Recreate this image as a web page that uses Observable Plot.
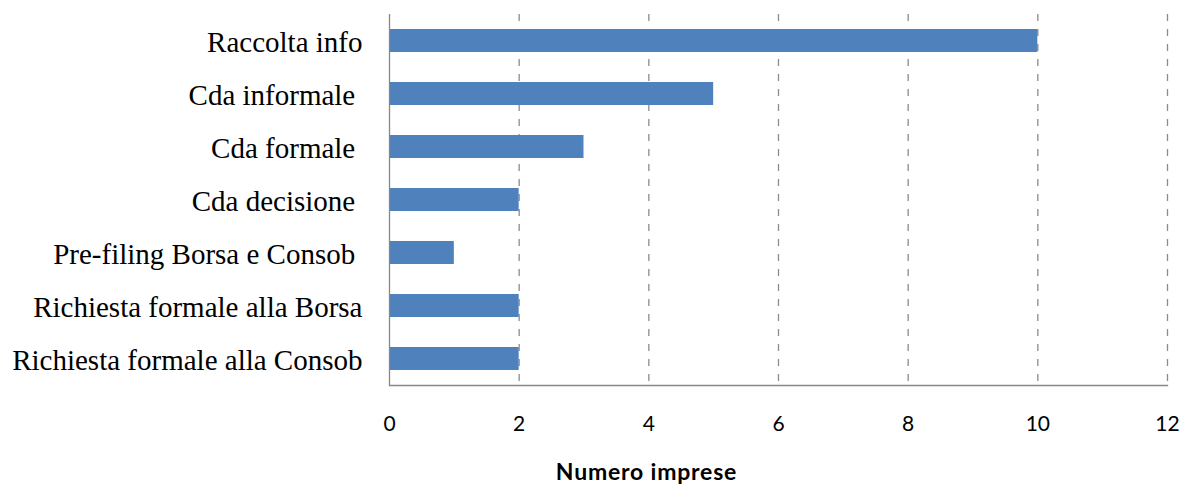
<!DOCTYPE html>
<html>
<head>
<meta charset="utf-8">
<script src="https://cdn.jsdelivr.net/npm/d3@7"></script>
<script src="https://cdn.jsdelivr.net/npm/@observablehq/plot@0.6"></script>
<style>
  html, body { margin: 0; padding: 0; background: #fff; }
  #chart { width: 1182px; height: 484px; }
  .xlabel text { letter-spacing: 0.8px; }
</style>
</head>
<body>
<div id="chart"></div>
<script>
// Fasi del processo di quotazione e numero di imprese che le hanno svolte
const fasi = [
  "Raccolta info",
  "Cda informale ",
  "Cda formale ",
  "Cda decisione ",
  "Pre-filing Borsa e Consob ",
  "Richiesta formale alla Borsa",
  "Richiesta formale alla Consob"
];
const imprese = [10, 5, 3, 2, 1, 2, 2];
const xTicks = [0, 2, 4, 6, 8, 10, 12];
const xLabel = "Numero imprese";

const data = fasi.map((f, i) => ({fase: f, n: imprese[i]}));

const W = 1182, H = 484;
const mL = 389, mR = 15, mT = 14, mB = 99;

const chart = Plot.plot({
  width: W,
  height: H,
  marginLeft: mL,
  marginRight: mR,
  marginTop: mT,
  marginBottom: mB,
  style: {background: "#fff", overflow: "visible"},
  x: {domain: [0, 12], ticks: xTicks},
  y: {domain: fasi, paddingInner: 0.57, paddingOuter: 0.285, align: 0.5},
  marks: [
    Plot.gridX(xTicks.filter(d => d > 0), {stroke: "#8c8c8c", strokeOpacity: 1, strokeWidth: 1.3, strokeDasharray: "7,8"}),
    Plot.barX(data, {x: "n", y: "fase", fill: "#4f81bd"}),
    Plot.ruleX([0], {stroke: "#878787", strokeWidth: 1.3}),
    Plot.frame({anchor: "bottom", stroke: "#878787", strokeWidth: 1.3}),
    Plot.axisX({
      ticks: xTicks, tickSize: 0, tickPadding: 31, label: null,
      fontSize: 21, fontFamily: "Lato, 'Open Sans', sans-serif", fill: "#000"
    }),
    Plot.axisY({
      tickSize: 0, tickPadding: 27, dy: 2, label: null,
      fontSize: 29, fontFamily: "'Liberation Serif', 'DejaVu Serif', serif", fill: "#000"
    }),
    Plot.text([xLabel], {
      x: () => (646 - mL) / (W - mL - mR) * 12,
      frameAnchor: "bottom", dy: 94, text: d => d, className: "xlabel",
      fontSize: 23, fontWeight: "bold", fontFamily: "Lato, 'Open Sans', sans-serif", fill: "#000"
    })
  ]
});

document.getElementById("chart").appendChild(chart);
</script>
</body>
</html>
